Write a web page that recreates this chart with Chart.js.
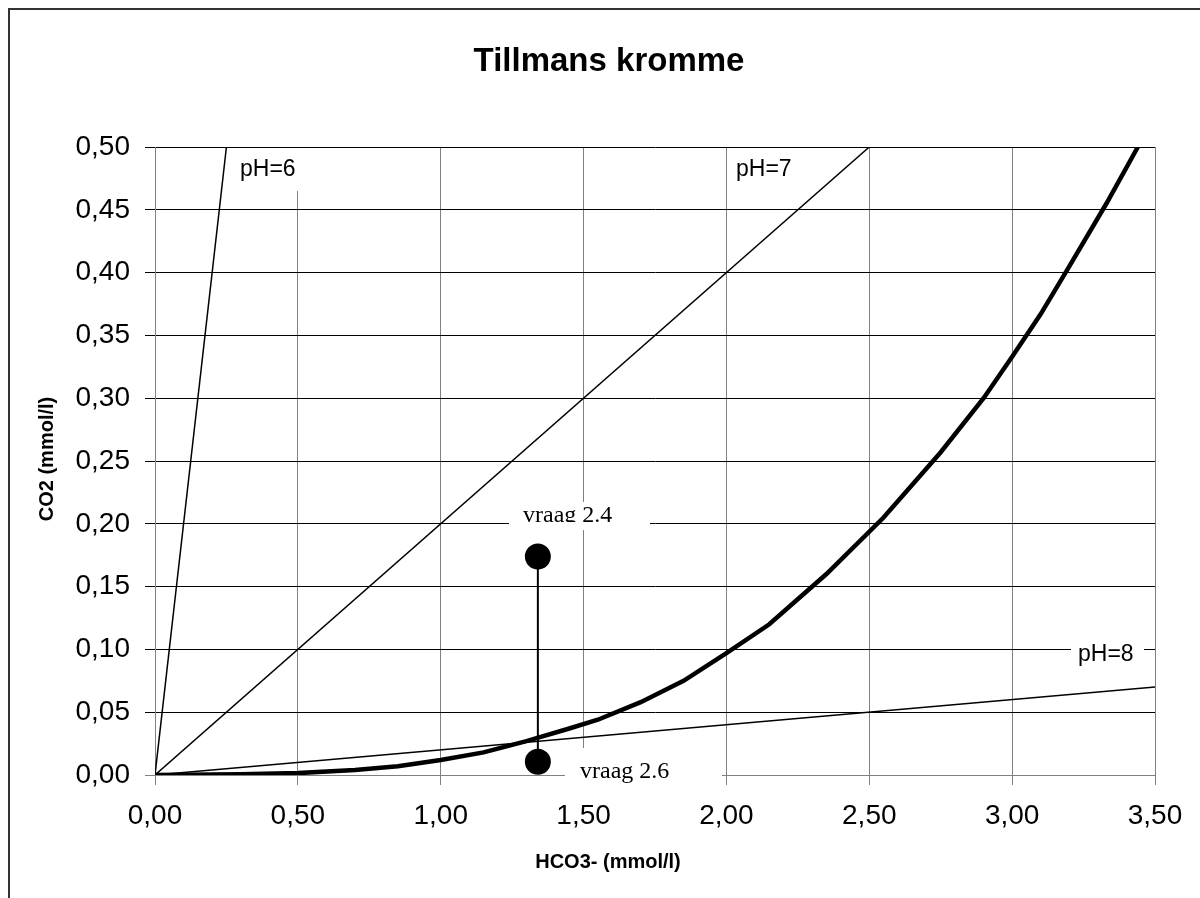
<!DOCTYPE html>
<html>
<head>
<meta charset="utf-8">
<script src="https://cdn.jsdelivr.net/npm/chart.js@4/dist/chart.umd.min.js"></script>
<style>
  html, body { margin: 0; padding: 0; background: #fff; }
  #wrap { width: 1200px; height: 898px; }
</style>
</head>
<body>
<div id="wrap"><canvas id="chart" width="1200" height="898"></canvas></div>
<script>
// HCO3- (x) against CO2 (y), both in mmol/l
const tillmansX = [0, 0.3, 0.5, 0.7, 0.85, 1.0, 1.15, 1.3, 1.45, 1.55, 1.7, 1.85, 2.0, 2.15, 2.35, 2.55, 2.75, 2.9, 3.0, 3.1, 3.2, 3.33, 3.44];
const tillmansY = [0, 0.0005, 0.0015, 0.004, 0.007, 0.012, 0.018, 0.027, 0.037, 0.044, 0.058, 0.075, 0.097, 0.12, 0.16, 0.205, 0.257, 0.3, 0.333, 0.367, 0.405, 0.455, 0.5];

const ph6X = [0, 0.25];
const ph6Y = [0, 0.5];
const ph7X = [0, 2.5];
const ph7Y = [0, 0.5];
const ph8X = [0, 3.5];
const ph8Y = [0, 0.07];

const vraagX = [1.34, 1.34];
const vraagY = [0.0105, 0.174];

const xTicks = [0, 0.5, 1.0, 1.5, 2.0, 2.5, 3.0, 3.5];
const yTicks = [0, 0.05, 0.10, 0.15, 0.20, 0.25, 0.30, 0.35, 0.40, 0.45, 0.50];

// text labels: anchor in data units, white box offsets in px around the anchor
const notes = [
  { text: 'pH=6', x: 0.2975, y: 0.4817, font: '23px Arial, "Liberation Sans", sans-serif', base: 'middle', box: [-8, 65, -22, 21] },
  { text: 'pH=7', x: 2.0335, y: 0.4817, font: '23px Arial, "Liberation Sans", sans-serif', base: 'middle', box: [-5, 60, -22, 21] },
  { text: 'pH=8', x: 3.2305, y: 0.0955, font: '23px Arial, "Liberation Sans", sans-serif', base: 'middle', box: [-7, 66, -15, 16] },
  { text: 'vraag 2.4', x: 1.288, y: 0.2014, font: '24px "Times New Roman", "Liberation Serif", serif', base: 'alphabetic', box: [-14, 127, -20, 8], clip: true },
  { text: 'vraag 2.6', x: 1.4875, y: -0.0024, font: '24px "Times New Roman", "Liberation Serif", serif', base: 'alphabetic', box: [-15, 142, -30, 22] },
];

const pts = (xs, ys) => xs.map((x, i) => ({ x, y: ys[i] }));
const fmt = v => Number(v).toFixed(2).replace('.', ',');
const ARIAL = 'Arial, "Liberation Sans", sans-serif';

const decor = {
  id: 'decor',
  beforeDraw(chart) {
    const c = chart.ctx;
    c.save();
    c.fillStyle = '#fff';
    c.fillRect(0, 0, chart.width, chart.height);
    c.strokeStyle = '#333';
    c.lineWidth = 2;
    c.beginPath();
    c.moveTo(9, chart.height);
    c.lineTo(9, 9);
    c.lineTo(chart.width, 9);
    c.stroke();
    c.restore();
  },
  beforeDatasetsDraw(chart) {
    const c = chart.ctx, xs = chart.scales.x, ys = chart.scales.y;
    c.save();
    notes.forEach(n => {
      const px = xs.getPixelForValue(n.x), py = ys.getPixelForValue(n.y);
      c.fillStyle = '#fff';
      c.fillRect(px + n.box[0], py + n.box[2], n.box[1] - n.box[0], n.box[3] - n.box[2]);
    });
    c.restore();
  },
  afterDraw(chart) {
    const c = chart.ctx, xs = chart.scales.x, ys = chart.scales.y;
    c.save();
    notes.forEach(n => {
      const px = xs.getPixelForValue(n.x), py = ys.getPixelForValue(n.y);
      c.save();
      if (n.clip) {
        c.beginPath();
        c.rect(px + n.box[0], py + n.box[2], n.box[1] - n.box[0], n.box[3] - n.box[2] - 8);
        c.clip();
      }
      c.fillStyle = '#000';
      c.font = n.font;
      c.textAlign = 'left';
      c.textBaseline = n.base;
      c.fillText(n.text, px, py);
      c.restore();
    });
    // titles
    c.fillStyle = '#000';
    c.textAlign = 'center';
    c.textBaseline = 'middle';
    c.font = 'bold 33px ' + ARIAL;
    c.fillText('Tillmans kromme', 609, 62);
    c.font = 'bold 20px ' + ARIAL;
    c.fillText('HCO3- (mmol/l)', 608, 862);
    c.translate(47, 459);
    c.rotate(-Math.PI / 2);
    c.fillText('CO2 (mmol/l)', 0, 0);
    c.restore();
  }
};

new Chart(document.getElementById('chart'), {
  type: 'scatter',
  data: {
    datasets: [
      { label: 'pH=6', data: pts(ph6X, ph6Y), showLine: true, borderColor: '#000', borderWidth: 1.5, pointRadius: 0 },
      { label: 'pH=7', data: pts(ph7X, ph7Y), showLine: true, borderColor: '#000', borderWidth: 1.5, pointRadius: 0 },
      { label: 'pH=8', data: pts(ph8X, ph8Y), showLine: true, borderColor: '#000', borderWidth: 1.5, pointRadius: 0 },
      { label: 'Tillmans', data: pts(tillmansX, tillmansY), showLine: true, borderColor: '#000', borderWidth: 4.5, pointRadius: 0, tension: 0 },
      { label: 'vraag', data: pts(vraagX, vraagY), showLine: true, borderColor: '#000', borderWidth: 2,
        pointRadius: 12, pointBackgroundColor: '#000', pointBorderColor: '#000' },
    ],
  },
  options: {
    responsive: false,
    animation: false,
    layout: { padding: { left: 10, right: 45, top: 147, bottom: 23 } },
    plugins: { legend: { display: false }, tooltip: { enabled: false }, title: { display: false } },
    scales: {
      x: {
        type: 'linear', min: 0, max: 3.5,
        afterBuildTicks: s => { s.ticks = xTicks.map(v => ({ value: v })); },
        afterFit: s => { s.height = 100; },
        ticks: { callback: fmt, color: '#000', font: { family: ARIAL, size: 28 }, padding: 14, maxRotation: 0 },
        grid: { color: '#808080', lineWidth: 1, tickLength: 10 },
        border: { color: '#808080', width: 1 },
      },
      y: {
        type: 'linear', min: 0, max: 0.5,
        afterBuildTicks: s => { s.ticks = yTicks.map(v => ({ value: v })); },
        afterFit: s => { s.width = 145; },
        ticks: { callback: fmt, color: '#000', font: { family: ARIAL, size: 28 }, padding: 15 },
        grid: { color: ctx => ctx.tick && ctx.tick.value === 0 ? '#808080' : '#000', lineWidth: 1, tickLength: 10 },
        border: { color: '#808080', width: 1 },
      },
    },
  },
  plugins: [decor],
});
</script>
</body>
</html>
